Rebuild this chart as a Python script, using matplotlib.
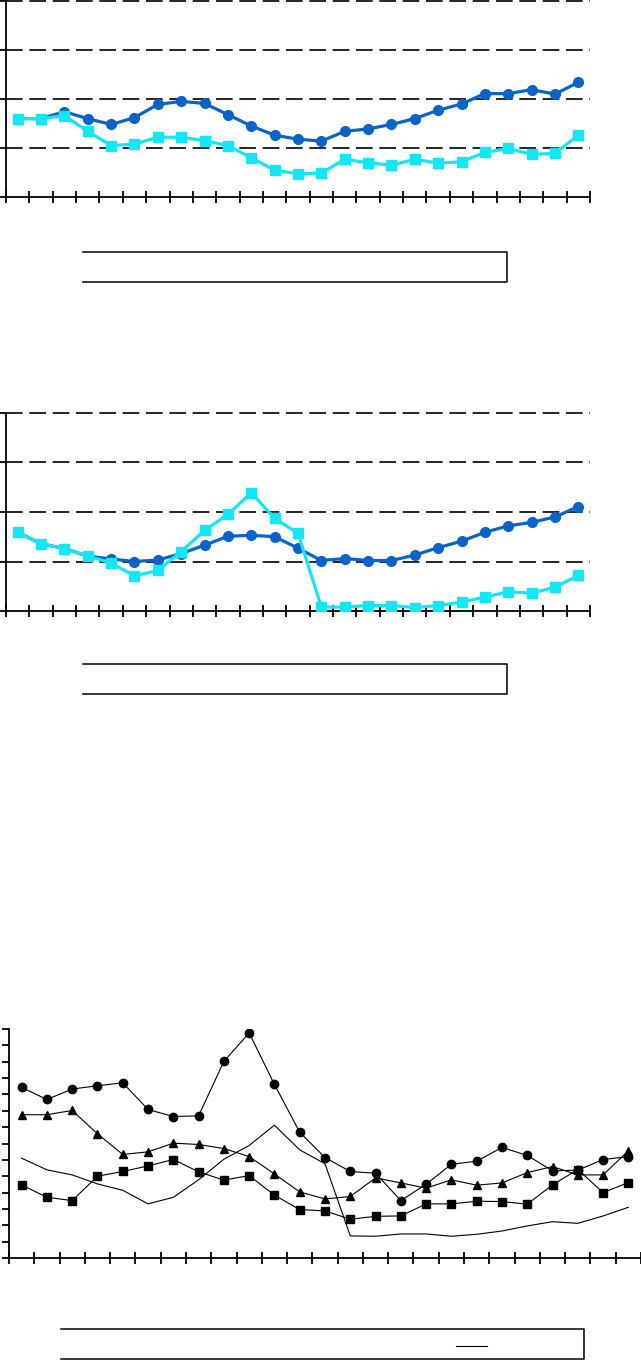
import matplotlib
matplotlib.use('Agg')
import matplotlib.pyplot as plt
import numpy as np
from matplotlib.lines import Line2D

W, H = 641, 1360

# panel 1
p1_dark = [1.60, 1.60, 1.74, 1.60, 1.48, 1.62, 1.89, 1.95, 1.91, 1.68, 1.45, 1.26, 1.18,
           1.14, 1.34, 1.39, 1.48, 1.60, 1.77, 1.90, 2.11, 2.11, 2.19, 2.10, 2.34]
p1_cyan = [1.60, 1.60, 1.66, 1.34, 1.05, 1.08, 1.22, 1.22, 1.15, 1.05, 0.80, 0.55, 0.47,
           0.49, 0.77, 0.70, 0.65, 0.77, 0.69, 0.72, 0.91, 0.99, 0.87, 0.89, 1.26]

# panel 2
p2_dark = [1.59, 1.36, 1.26, 1.11, 1.05, 1.00, 1.03, 1.16, 1.33, 1.51, 1.53, 1.50, 1.27,
           1.02, 1.06, 1.02, 1.02, 1.13, 1.28, 1.41, 1.59, 1.72, 1.79, 1.90, 2.11]
p2_cyan = [1.59, 1.36, 1.26, 1.11, 0.97, 0.71, 0.82, 1.20, 1.63, 1.95, 2.39, 1.87, 1.57,
           0.08, 0.08, 0.11, 0.11, 0.07, 0.11, 0.18, 0.28, 0.39, 0.36, 0.48, 0.72]

# panel 3
p3_diamond = [10.43, 9.69, 10.33, 10.53, 10.71, 9.08, 8.65, 8.69, 12.02, 13.76, 10.61, 7.69, 6.14,
              5.29, 5.18, 3.51, 4.51, 5.73, 5.92, 6.76, 6.27, 5.33, 5.37, 6.02, 6.20]
p3_triangle = [8.76, 8.76, 9.02, 7.59, 6.33, 6.49, 7.02, 6.94, 6.69, 6.20, 5.14, 4.04, 3.61,
               3.76, 4.90, 4.59, 4.27, 4.78, 4.45, 4.59, 5.22, 5.59, 5.08, 5.08, 6.55]
p3_square = [4.47, 3.71, 3.51, 5.00, 5.29, 5.63, 6.02, 5.27, 4.76, 5.04, 3.84, 2.96, 2.88,
             2.37, 2.55, 2.57, 3.31, 3.31, 3.47, 3.45, 3.29, 4.47, 5.41, 4.00, 4.61]
p3_plain = [6.10, 5.39, 5.08, 4.53, 4.14, 3.31, 3.71, 4.78, 6.04, 6.88, 8.12, 6.61, 5.76,
            1.35, 1.33, 1.47, 1.47, 1.33, 1.45, 1.65, 1.96, 2.22, 2.12, 2.57, 3.10]

x = np.arange(25)
dark = '#0a64c8'
cyan = '#14e6f5'

fig = plt.figure(figsize=(W / 100, H / 100), dpi=100)


def rect(l, t, r, b):
    return [l / W, 1 - b / H, (r - l) / W, (b - t) / H]


def style(ax, ymax, ystep, grid):
    ax.set_xlim(-0.5, 24.5)
    ax.set_ylim(0, ymax)
    for s in ['top', 'right']:
        ax.spines[s].set_visible(False)
    for s in ['left', 'bottom']:
        ax.spines[s].set_linewidth(1.3)
    ax.set_xticks(np.arange(-0.5, 25, 1))
    ax.set_yticks(np.arange(0, ymax + 0.01, ystep))
    ax.tick_params(axis='x', direction='inout', length=8, width=1.3, labelbottom=False)
    ax.tick_params(axis='y', direction='out', length=5, width=1.3, labelleft=False)
    if grid:
        for v in np.arange(ystep, ymax + 0.01, ystep):
            ax.axhline(v, color='black', lw=1.2, ls=(0, (10, 4)), clip_on=False, zorder=1)


def box(l, t, r, b):
    xs = [l / W, r / W, r / W, l / W]
    ys = [1 - t / H, 1 - t / H, 1 - b / H, 1 - b / H]
    fig.add_artist(Line2D(xs, ys, color='black', lw=1.1, transform=fig.transFigure))


# panel 1
ax1 = fig.add_axes(rect(6, 1, 590, 197))
style(ax1, 4, 1, True)
ax1.plot(x, p1_dark, color=dark, lw=2.3, marker='o', ms=7, zorder=3)
ax1.plot(x, p1_cyan, color=cyan, lw=2.3, marker='s', ms=7.5, zorder=4)
box(83, 252, 507, 282)

# panel 2
ax2 = fig.add_axes(rect(6, 413, 590, 611))
style(ax2, 4, 1, True)
ax2.plot(x, p2_dark, color=dark, lw=2.3, marker='o', ms=7, zorder=3)
ax2.plot(x, p2_cyan, color=cyan, lw=2.3, marker='s', ms=7.5, zorder=4)
box(83, 664, 507, 694)

# panel 3
ax3 = fig.add_axes(rect(9, 1029, 641, 1258))
style(ax3, 14, 1, False)
ax3.plot(x, p3_diamond, color='black', lw=0.8, marker='o', ms=6)
ax3.plot(x, p3_square, color='black', lw=0.8, marker='s', ms=6)
ax3.plot(x, p3_triangle, color='black', lw=0.8, marker='^', ms=6)
ax3.plot(x, p3_plain, color='black', lw=0.8)
box(61, 1329, 584, 1359)
fig.add_artist(Line2D([456 / W, 487 / W], [1 - 1346 / H, 1 - 1346 / H], color='black',
                      lw=0.8, transform=fig.transFigure))

fig.savefig('out.png', dpi=100)
